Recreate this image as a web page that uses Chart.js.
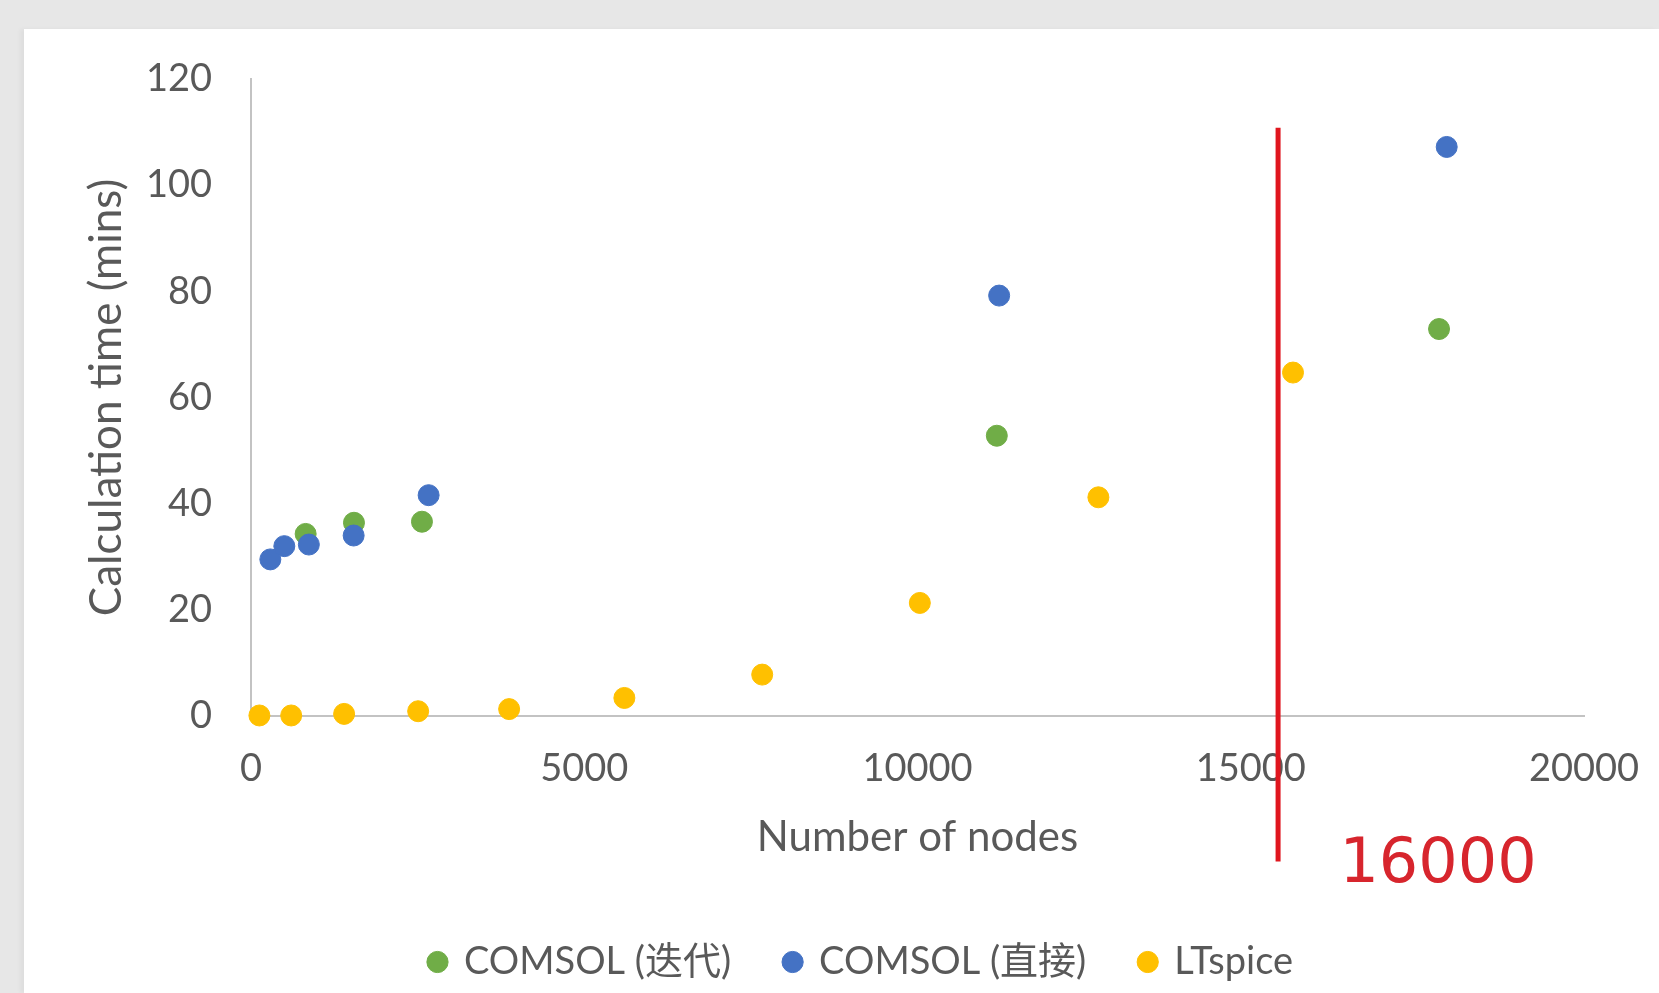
<!DOCTYPE html>
<html>
<head>
<meta charset="utf-8">
<script src="https://cdn.jsdelivr.net/npm/chart.js@4"></script>
<style>
    html, body { margin: 0; padding: 0; overflow: hidden; }
    body { width: 1659px; height: 993px; background: #e7e7e7; position: relative; }
    .card { position: absolute; left: 24px; top: 29px; right: 0; bottom: 0; background: #fff;
            box-shadow: -4px 0 4px rgba(0,0,0,0.04); }
    .wrap { position: absolute; left: 24px; top: 29px; width: 1635px; height: 962px; }
</style>
</head>
<body>
<div class="card"></div>
<div class="wrap"><canvas id="timeChart"></canvas></div>
<script>
const seriesNames = ['COMSOL (迭代)', 'COMSOL (直接)', 'LTspice'];

const nodesIter = [820, 1545, 2565, 11190, 17825];
const timeIter = [34.3, 36.4, 36.6, 52.8, 72.9];

const nodesDirect = [290, 500, 868, 1540, 2665, 11225, 17940];
const timeDirect = [29.5, 32.0, 32.3, 34.0, 41.6, 79.2, 107.2];

const nodesLT = [126, 603, 1397, 2508, 3873, 5602, 7670, 10035, 12714, 15634];
const timeLT = [0.1, 0.1, 0.4, 0.9, 1.3, 3.4, 7.8, 21.3, 41.2, 64.7];

// red marker line and its label
const markerX = [15410, 15410];
const markerY = [110.8, -27.4];
const markerText = '16000';
const markerTextPos = [16330, -31.2];

const xTicks = [0, 5000, 10000, 15000, 20000];
const yTicks = [0, 20, 40, 60, 80, 100, 120];

const toPoints = (xs, ys) => xs.map((x, i) => ({ x: x, y: ys[i] }));

const font = 'Lato, "Noto Sans CJK SC", sans-serif';
const grey = '#595959';

const markerLabel = {
    id: 'markerLabel',
    afterDatasetsDraw(chart) {
        const c = chart.ctx;
        const px = chart.scales.x.getPixelForValue(markerTextPos[0]);
        const py = chart.scales.y.getPixelForValue(markerTextPos[1]);
        c.save();
        c.font = '62px "DejaVu Sans", sans-serif';
        c.fillStyle = '#d7252d';
        c.textAlign = 'left';
        c.textBaseline = 'alphabetic';
        c.fillText(markerText, px, py);
        c.restore();
    }
};

const ctx = document.getElementById('timeChart').getContext('2d');

const timeChart = new Chart(ctx, {
    type: 'scatter',
    data: {
        datasets: [
            {
                label: seriesNames[0],
                data: toPoints(nodesIter, timeIter),
                backgroundColor: '#70ad47',
                borderColor: '#70ad47',
                pointRadius: 10.5,
                order: 1,
                clip: false
            },
            {
                label: seriesNames[1],
                data: toPoints(nodesDirect, timeDirect),
                backgroundColor: '#4472c4',
                borderColor: '#4472c4',
                pointRadius: 10.5,
                order: 0,
                clip: false
            },
            {
                label: seriesNames[2],
                data: toPoints(nodesLT, timeLT),
                backgroundColor: '#ffc000',
                borderColor: '#ffc000',
                pointRadius: 10.5,
                order: 2,
                clip: false
            },
            {
                label: 'marker',
                data: toPoints(markerX, markerY),
                showLine: true,
                borderColor: '#e0161e',
                borderWidth: 5,
                pointRadius: 0,
                order: -1,
                clip: false
            }
        ]
    },
    options: {
        responsive: true,
        maintainAspectRatio: false,
        animation: false,
        layout: {
            padding: { left: 40, right: 0, top: 50, bottom: 0 }
        },
        plugins: {
            tooltip: { enabled: false },
            legend: {
                position: 'bottom',
                labels: {
                    usePointStyle: true,
                    pointStyle: 'circle',
                    boxWidth: 15,
                    boxHeight: 15,
                    padding: 54,
                    color: grey,
                    font: { family: font, size: 38 },
                    filter: (item) => item.datasetIndex < 3,
                    sort: (a, b) => a.datasetIndex - b.datasetIndex
                }
            }
        },
        scales: {
            x: {
                type: 'linear',
                min: 0,
                max: 20000,
                afterBuildTicks: (scale) => { scale.ticks = xTicks.map(v => ({ value: v })); },
                afterFit: (scale) => { scale.height = 173; scale.paddingRight = 75; },
                grid: { display: false, drawTicks: false },
                border: { display: true, color: '#c3c3c3', width: 2 },
                ticks: {
                    padding: 30,
                    color: grey,
                    font: { family: font, size: 38 },
                    callback: (v) => String(v)
                },
                title: {
                    display: true,
                    text: 'Number of nodes',
                    color: grey,
                    font: { family: font, size: 42 },
                    padding: { top: 0, bottom: 26 }
                }
            },
            y: {
                min: 0,
                max: 120,
                afterBuildTicks: (scale) => { scale.ticks = yTicks.map(v => ({ value: v })); },
                afterFit: (scale) => { scale.width = 187; scale.paddingTop = 0; },
                grid: { display: false, drawTicks: false },
                border: { display: true, color: '#c3c3c3', width: 2 },
                ticks: { padding: 39, color: grey, font: { family: font, size: 38 } },
                title: {
                    display: true,
                    text: 'Calculation time (mins)',
                    color: grey,
                    font: { family: font, size: 44 },
                    padding: { top: 16, bottom: 0 }
                }
            }
        }
    },
    plugins: [markerLabel]
});
</script>
</body>
</html>
